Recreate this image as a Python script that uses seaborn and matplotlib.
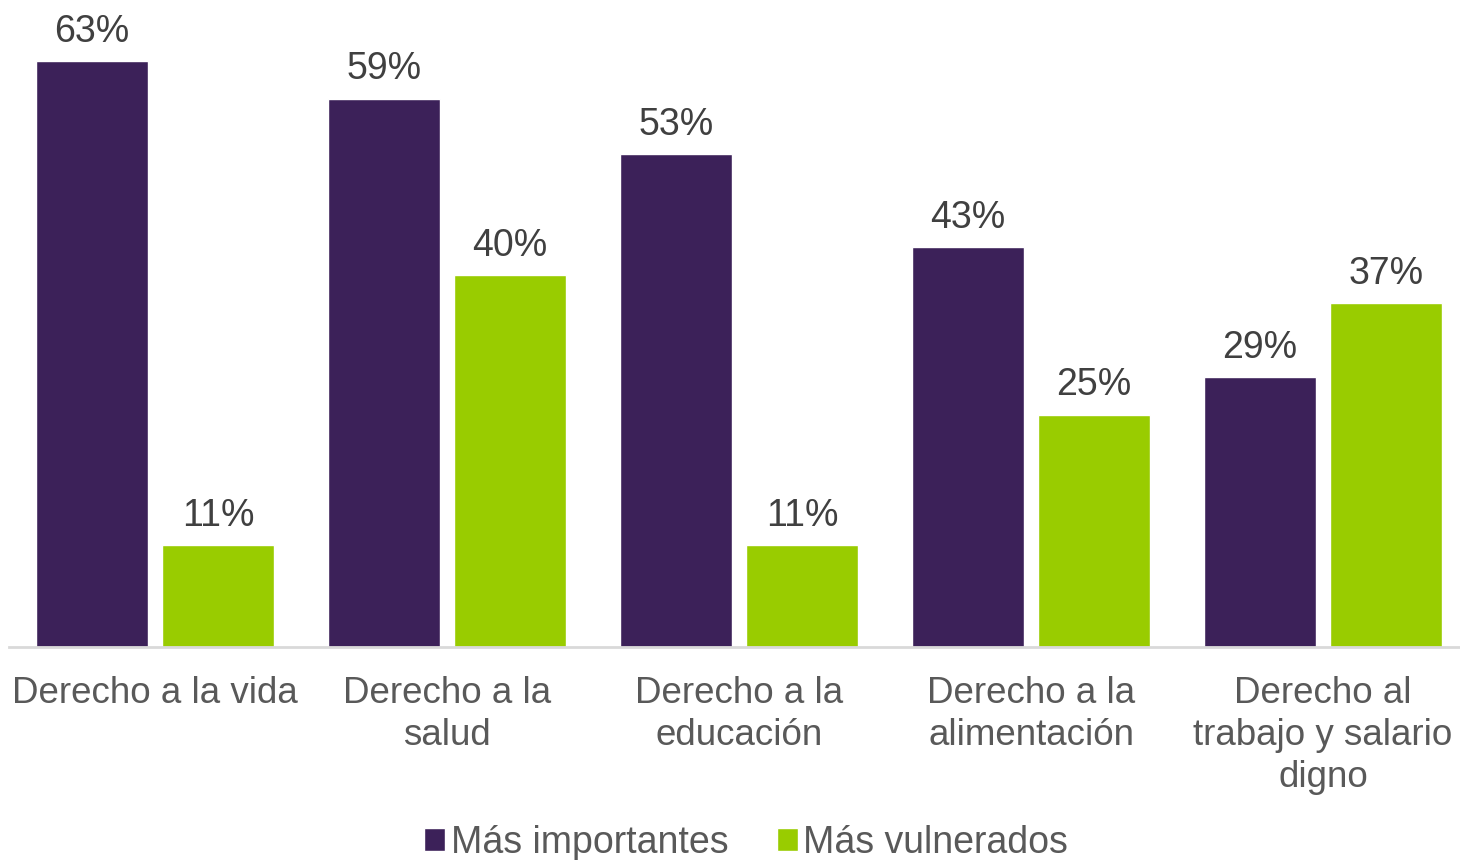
import matplotlib
matplotlib.use("Agg")
import matplotlib.pyplot as plt
import seaborn as sns
import pandas as pd

categories = ["Derecho a la vida", "Derecho a la\nsalud", "Derecho a la\neducación",
              "Derecho a la\nalimentación", "Derecho al\ntrabajo y salario\ndigno"]
importantes = [63, 59, 53, 43, 29]
vulnerados = [11, 40, 11, 25, 37]
series = ["Más importantes", "Más vulnerados"]
colors = ["#3C2159", "#99CC00"]

df = pd.DataFrame({
    "categoria": categories * 2,
    "serie": [series[0]] * len(categories) + [series[1]] * len(categories),
    "valor": importantes + vulnerados,
})

sns.set_theme(style="white")
plt.rcParams["font.family"] = ["Liberation Sans", "DejaVu Sans"]

fig = plt.figure(figsize=(14.6, 8.6), dpi=100)
ax = fig.add_axes([9 / 1460, 213 / 860, 1460 / 1460, 647 / 860])

sns.barplot(data=df, x="categoria", y="valor", hue="serie", palette=colors,
            saturation=1, width=0.862, gap=0.11, ax=ax, legend=True)

for cont in ax.containers:
    ax.bar_label(cont, labels=[f"{v:.0f}%" for v in cont.datavalues],
                 padding=8, fontsize=27, color="#404040")

ax.set_ylim(0, 69.6)
ax.set_xlim(-0.5, 4.5)
ax.set_xlabel("")
ax.set_ylabel("")
ax.set_yticks([])
ax.tick_params(axis="x", length=0, pad=21, labelsize=26.5, labelcolor="#595959")
for lab in ax.get_xticklabels():
    lab.set_linespacing(1.25)
    lab.set_verticalalignment("top")
for s in ["top", "right", "left"]:
    ax.spines[s].set_visible(False)
ax.spines["bottom"].set_color("#D9D9D9")
ax.spines["bottom"].set_linewidth(2)

handles, labels = ax.get_legend_handles_labels()
ax.legend(handles, labels, loc="center", bbox_to_anchor=(0.505, -0.303), ncol=2,
          frameon=False, fontsize=27, labelcolor="#595959", handlelength=0.55,
          handleheight=0.55, handletextpad=0.15, columnspacing=1.3)

fig.savefig("out.png", dpi=100)
